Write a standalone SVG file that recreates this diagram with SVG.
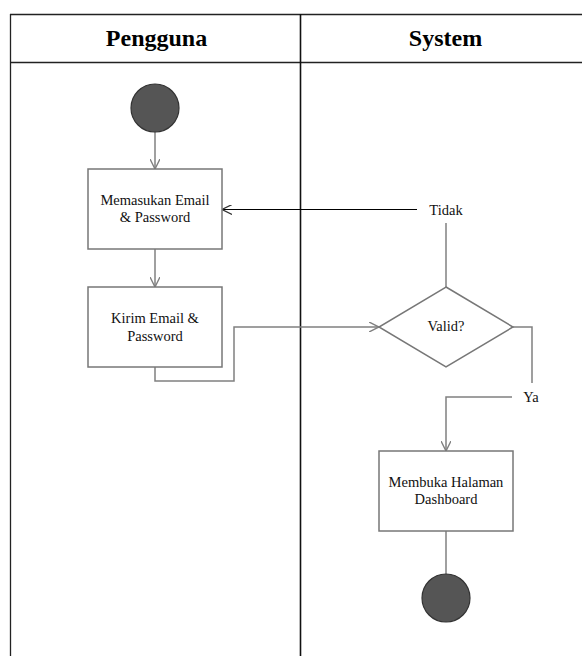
<svg xmlns="http://www.w3.org/2000/svg" width="582" height="656" viewBox="0 0 582 656">
  <style>
    .lane { stroke: #222; stroke-width: 1.3; fill: none; }
    .head { font-family: "Liberation Serif", "Times New Roman", serif; font-weight: bold; font-size: 24px; fill: #000; text-anchor: middle; }
    .box { fill: #fff; stroke: #777; stroke-width: 1.5; }
    .label { font-family: "Liberation Serif", "Times New Roman", serif; font-size: 14.5px; fill: #111; text-anchor: middle; }
    .node-end { fill: #555; stroke: #333; stroke-width: 1.2; }
    .flow { stroke: #808080; stroke-width: 1.5; fill: none; }
    .flow-dark { stroke: #000; stroke-width: 1; fill: none; }
  </style>
  <defs>
    <marker id="arrow" viewBox="0 0 10 10" refX="10" refY="5" markerWidth="10" markerHeight="10" markerUnits="userSpaceOnUse" orient="auto">
      <path d="M0,0 L10,5 L0,10" fill="none" stroke="#808080" stroke-width="1.4"/>
    </marker>
    <marker id="arrow-dark" viewBox="0 0 10 10" refX="10" refY="5" markerWidth="10" markerHeight="10" markerUnits="userSpaceOnUse" orient="auto">
      <path d="M0,0 L10,5 L0,10" fill="none" stroke="#333" stroke-width="1.2"/>
    </marker>
  </defs>

  <!-- swimlane frame -->
  <g id="lanes">
    <rect x="0" y="0" width="582" height="656" fill="#fff"/>
    <line class="lane" x1="10" y1="14.5" x2="582" y2="14.5"/>
    <line class="lane" x1="10" y1="62.5" x2="582" y2="62.5"/>
    <line class="lane" x1="10.5" y1="14" x2="10.5" y2="656"/>
    <line x1="300.5" y1="14" x2="300.5" y2="656" stroke="#111" stroke-width="1.6"/>
    <text class="head" x="156.5" y="46">Pengguna</text>
    <text class="head" x="445.5" y="46">System</text>
  </g>

  <!-- connectors -->
  <g id="connectors">
    <line class="flow" x1="155" y1="132" x2="155" y2="169" marker-end="url(#arrow)"/>
    <line class="flow" x1="155" y1="249" x2="155" y2="287" marker-end="url(#arrow)"/>
    <polyline class="flow" points="155,367 155,381 234,381 234,327 379,327" marker-end="url(#arrow)"/>
    <line class="flow" x1="446" y1="287" x2="446" y2="223"/>
    <line class="flow-dark" x1="417" y1="209.5" x2="222" y2="209.5" marker-end="url(#arrow-dark)"/>
    <polyline class="flow" points="513,327 532,327 532,383"/>
    <polyline class="flow" points="512,397 446,397 446,451" marker-end="url(#arrow)"/>
    <line class="flow" x1="446" y1="531" x2="446" y2="574"/>
    <text class="label" x="446" y="214.5">Tidak</text>
    <text class="label" x="531" y="402">Ya</text>
  </g>

  <g id="start">
    <circle class="node-end" cx="155" cy="108" r="24"/>
  </g>

  <g id="input-credentials">
    <rect class="box" x="88" y="169" width="134" height="80"/>
    <text class="label" x="155" y="205">Memasukan Email</text>
    <text class="label" x="155" y="222">&amp; Password</text>
  </g>

  <g id="send-credentials">
    <rect class="box" x="88" y="287" width="134" height="80"/>
    <text class="label" x="155" y="323">Kirim Email &amp;</text>
    <text class="label" x="155" y="341">Password</text>
  </g>

  <g id="valid-check">
    <polygon class="box" points="446,287 513,327 446,367 379,327"/>
    <text class="label" x="446" y="331">Valid?</text>
  </g>

  <g id="open-dashboard">
    <rect class="box" x="379" y="451" width="134" height="80"/>
    <text class="label" x="446" y="487">Membuka Halaman</text>
    <text class="label" x="446" y="504">Dashboard</text>
  </g>

  <g id="end">
    <circle class="node-end" cx="446" cy="598" r="24"/>
  </g>
</svg>
